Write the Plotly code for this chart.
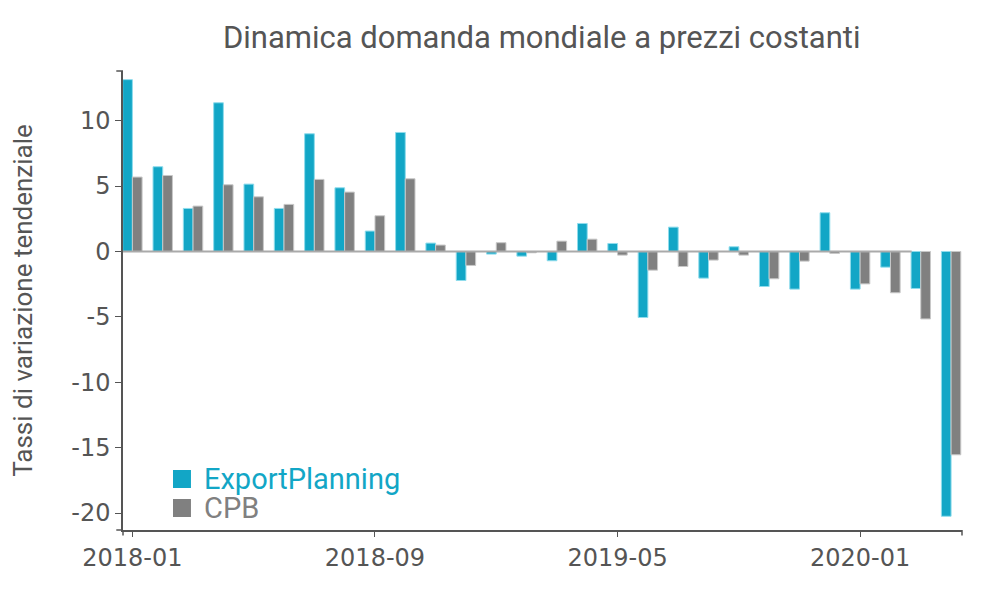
import plotly.graph_objects as go

months = ["2018-01","2018-02","2018-03","2018-04","2018-05","2018-06","2018-07","2018-08","2018-09","2018-10","2018-11","2018-12",
          "2019-01","2019-02","2019-03","2019-04","2019-05","2019-06","2019-07","2019-08","2019-09","2019-10","2019-11","2019-12",
          "2020-01","2020-02","2020-03","2020-04"]
export_planning = [13.14, 6.48, 3.29, 11.37, 5.15, 3.29, 9.00, 4.87, 1.56, 9.10, 0.64, -2.22,
                   -0.20, -0.36, -0.71, 2.14, 0.61, -5.05, 1.86, -2.04, 0.36, -2.68, -2.88, 2.96,
                   -2.88, -1.20, -2.83, -20.25]
cpb = [5.69, 5.81, 3.47, 5.10, 4.18, 3.60, 5.51, 4.54, 2.73, 5.56, 0.49, -1.07,
       0.67, -0.10, 0.79, 0.94, -0.28, -1.43, -1.15, -0.66, -0.28, -2.09, -0.74, -0.15,
       -2.48, -3.16, -5.16, -15.55]
series_names = ["ExportPlanning", "CPB"]
x_ticks = ["2018-01", "2018-09", "2019-05", "2020-01"]
y_ticks = [-20, -15, -10, -5, 0, 5, 10]
y_tick_labels = ["-20", "-15", "-10", "-5", "0", "5", "10"]

BLUE = "#12a6c6"
GREY = "#808080"
TXT = "#555555"
colors = [BLUE, GREY]

fig = go.Figure()
fig.add_trace(go.Bar(x=months, y=export_planning, name=series_names[0], showlegend=False,
                     marker=dict(color=BLUE, line=dict(color="#8fdcec", width=1))))
fig.add_trace(go.Bar(x=months, y=cpb, name=series_names[1], showlegend=False,
                     marker=dict(color=GREY, line=dict(color="#c8c8c8", width=1))))

# zero line
fig.add_shape(type="line", xref="x", yref="y", x0=-0.31, x1=25.7, y0=0, y1=0,
              line=dict(color="#aaaaaa", width=2), layer="above")
# outer ticks at axis ends (d3 domain style)
fig.add_shape(type="line", xref="paper", yref="paper", x0=-0.008, x1=0, y0=1, y1=1,
              line=dict(color=TXT, width=1.5))
fig.add_shape(type="line", xref="paper", yref="paper", x0=-0.008, x1=0, y0=0, y1=0,
              line=dict(color=TXT, width=1.5))
fig.add_shape(type="line", xref="paper", yref="paper", x0=1, x1=1, y0=0, y1=-0.012,
              line=dict(color=TXT, width=1.5))
fig.add_shape(type="line", xref="paper", yref="paper", x0=0, x1=0, y0=0, y1=-0.012,
              line=dict(color=TXT, width=1.5))

# legend (manual, to match swatch size and row spacing)
legend_rows = [(0.0915, 0.1307, 0.111), (0.0283, 0.0675, 0.048)]
for name, col, (y0, y1, yc) in zip(series_names, colors, legend_rows):
    fig.add_shape(type="rect", xref="paper", yref="paper", x0=0.0596, x1=0.081, y0=y0, y1=y1,
                  fillcolor=col, line=dict(width=0))
    fig.add_annotation(xref="paper", yref="paper", x=0.0953, y=yc, xanchor="left", yanchor="middle",
                       text=name, showarrow=False, borderpad=0,
                       font=dict(family="Roboto, sans-serif", size=29, color=col))

fig.update_layout(
    width=992, height=586,
    paper_bgcolor="white", plot_bgcolor="white",
    margin=dict(l=115, r=38, t=63, b=64, autoexpand=False),
    barmode="group", bargap=0.36, bargroupgap=0,
    font=dict(family="Roboto, sans-serif", color=TXT),
    title=dict(text="Dinamica domanda mondiale a prezzi costanti", x=0.538, xanchor="center",
               y=0.9505, yanchor="middle", font=dict(size=31, color=TXT)),
    xaxis=dict(type="category", range=[-0.31, 27.36], tickmode="array", tickvals=x_ticks,
               ticktext=x_ticks, showline=True, linecolor=TXT, linewidth=1.5,
               ticks="outside", ticklen=5, tickcolor=TXT, showgrid=False,
               tickfont=dict(family="DejaVu Sans", size=24, color=TXT), zeroline=False),
    yaxis=dict(range=[-21.3, 13.8], tickmode="array", tickvals=y_ticks, ticktext=y_tick_labels,
               showline=True, linecolor=TXT, linewidth=1.5, automargin=False,
               ticks="outside", ticklen=6, tickcolor=TXT, showgrid=False, zeroline=False,
               tickfont=dict(family="DejaVu Sans", size=24, color=TXT),
               title=dict(text="Tassi di variazione tendenziale",
                          font=dict(family="Roboto, sans-serif", size=26, color=TXT), standoff=31)),
    showlegend=False,
)

fig.write_html("out.html")
